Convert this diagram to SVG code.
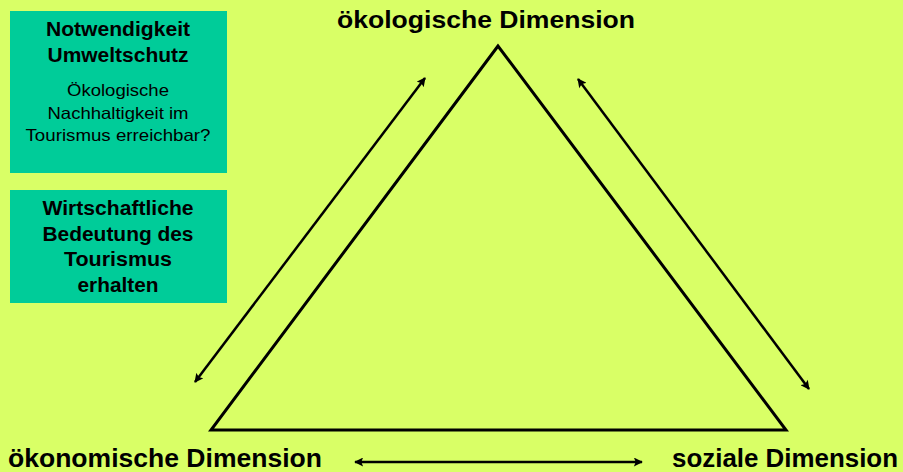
<svg xmlns="http://www.w3.org/2000/svg" width="903" height="472" viewBox="0 0 903 472">
<defs>
<style>
.t{font-family:"Liberation Sans",Arial,sans-serif;fill:#000}
.b{font-weight:bold}
.box{fill:#00CC99}
.ln{stroke:#000;stroke-width:3;fill:none}
.ar{stroke:#000;stroke-width:2.5;fill:none;marker-start:url(#ah);marker-end:url(#ah)}
</style>
<marker id="ah" viewBox="0 0 10 10" refX="9" refY="5" markerWidth="10" markerHeight="9" markerUnits="userSpaceOnUse" orient="auto-start-reverse">
<path d="M0,0 L10,5 L0,10 L2,5 Z" fill="#000"/>
</marker>
</defs>
<rect width="903" height="472" fill="#D9FF66"/>
<g id="box-umwelt">
<rect class="box" x="10" y="11" width="217" height="162"/>
<text class="t b" x="118" y="36" font-size="20" text-anchor="middle" textLength="144" lengthAdjust="spacingAndGlyphs">Notwendigkeit</text>
<text class="t b" x="118" y="62" font-size="20" text-anchor="middle" textLength="141" lengthAdjust="spacingAndGlyphs">Umweltschutz</text>
<text class="t" x="118" y="96" font-size="16.5" text-anchor="middle" textLength="102" lengthAdjust="spacingAndGlyphs">Ökologische</text>
<text class="t" x="118" y="119" font-size="16.5" text-anchor="middle" textLength="141" lengthAdjust="spacingAndGlyphs">Nachhaltigkeit im</text>
<text class="t" x="118" y="141" font-size="16.5" text-anchor="middle" textLength="185" lengthAdjust="spacingAndGlyphs">Tourismus erreichbar?</text>
</g>
<g id="box-wirtschaft">
<rect class="box" x="10" y="190" width="217" height="113"/>
<text class="t b" x="118" y="215" font-size="20" text-anchor="middle" textLength="151" lengthAdjust="spacingAndGlyphs">Wirtschaftliche</text>
<text class="t b" x="118" y="241" font-size="20" text-anchor="middle" textLength="151" lengthAdjust="spacingAndGlyphs">Bedeutung des</text>
<text class="t b" x="118" y="266" font-size="20" text-anchor="middle" textLength="108" lengthAdjust="spacingAndGlyphs">Tourismus</text>
<text class="t b" x="118" y="292" font-size="20" text-anchor="middle" textLength="81" lengthAdjust="spacingAndGlyphs">erhalten</text>
</g>
<g id="triangle">
<polygon class="ln" points="498,46 211,430 786,430" stroke-linejoin="miter"/>
</g>
<g id="label-oekologisch">
<text class="t b" x="337" y="28" font-size="24" textLength="298" lengthAdjust="spacingAndGlyphs">ökologische Dimension</text>
</g>
<g id="label-oekonomisch">
<text class="t b" x="8" y="467" font-size="26" textLength="314" lengthAdjust="spacingAndGlyphs">ökonomische Dimension</text>
</g>
<g id="label-sozial">
<text class="t b" x="672" y="467" font-size="26" textLength="226" lengthAdjust="spacingAndGlyphs">soziale Dimension</text>
</g>
<g id="connectors">
<line class="ar" x1="195" y1="382" x2="425" y2="78"/>
<line class="ar" x1="578" y1="79" x2="809" y2="389"/>
<line class="ar" x1="355" y1="462" x2="642" y2="462"/>
</g>
</svg>
